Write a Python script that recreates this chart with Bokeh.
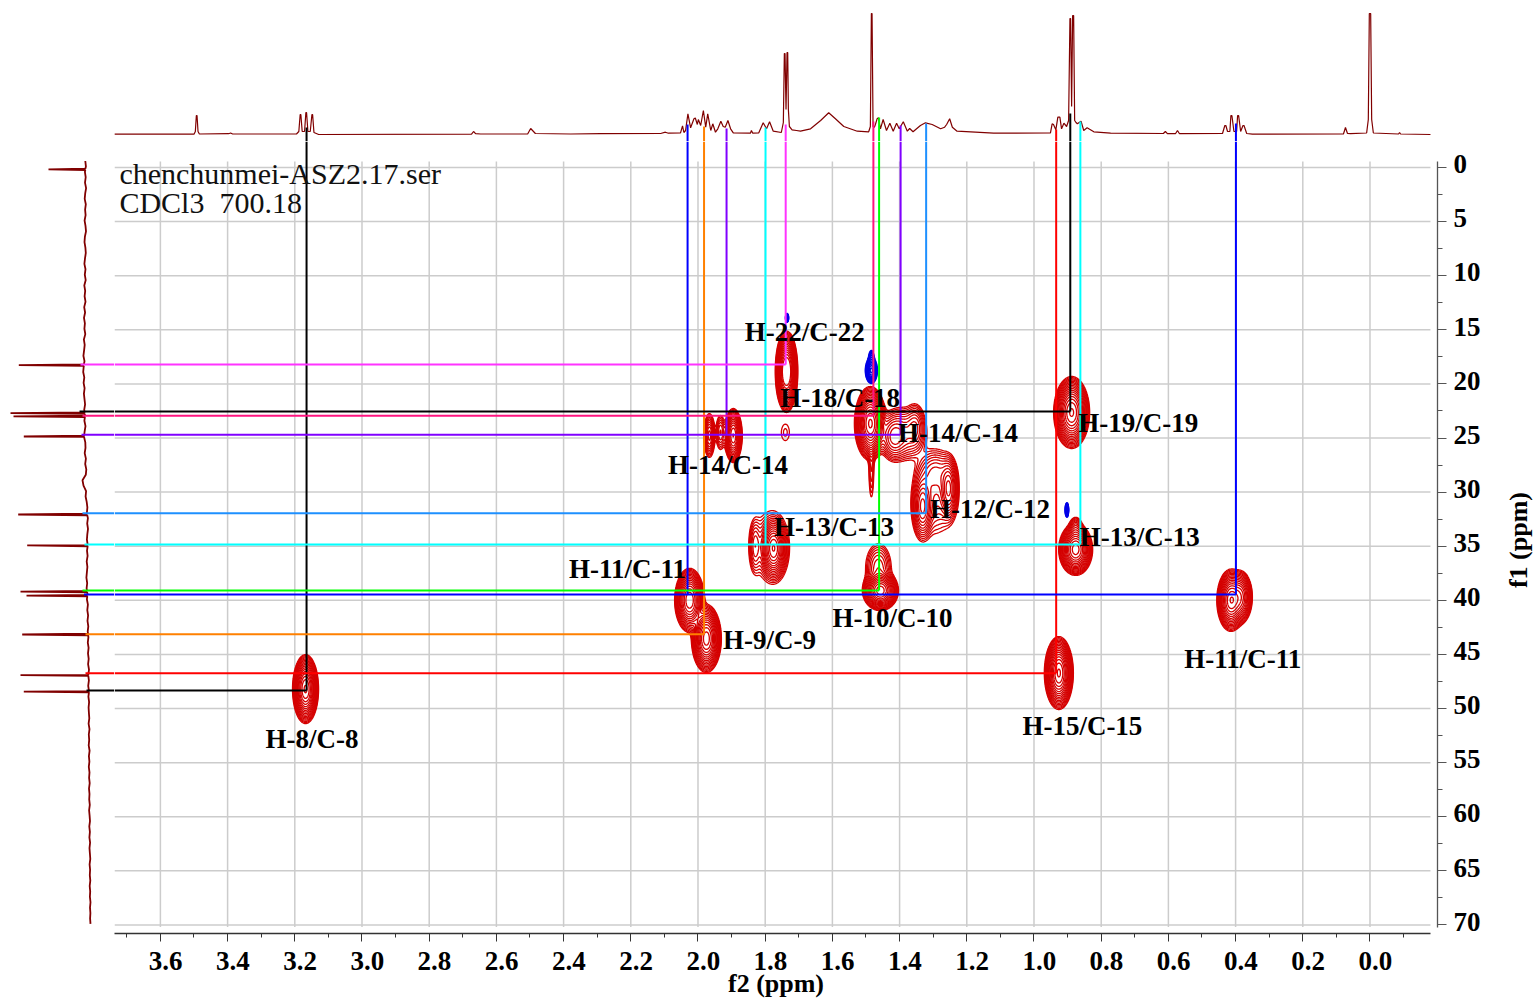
import math
import numpy as np
from bokeh.core.properties import value
from bokeh.embed import file_html
from bokeh.layouts import column, row
from bokeh.models import FixedTicker, LinearAxis, Range1d
from bokeh.plotting import figure
from bokeh.resources import INLINE

SERIF = "Liberation Serif"

# ---- axes
f2_ticks = [3.6, 3.4, 3.2, 3.0, 2.8, 2.6, 2.4, 2.2, 2.0, 1.8, 1.6, 1.4, 1.2, 1.0, 0.8, 0.6, 0.4, 0.2, 0.0]
f2_tick_labels = ["3.6", "3.4", "3.2", "3.0", "2.8", "2.6", "2.4", "2.2", "2.0", "1.8", "1.6", "1.4", "1.2", "1.0", "0.8", "0.6", "0.4", "0.2", "0.0"]
f2_minor = [3.7, 3.5, 3.3, 3.1, 2.9, 2.7, 2.5, 2.3, 2.1, 1.9, 1.7, 1.5, 1.3, 1.1, 0.9, 0.7, 0.5, 0.3, 0.1, -0.1]
f1_ticks = [0, 5, 10, 15, 20, 25, 30, 35, 40, 45, 50, 55, 60, 65, 70]
f1_tick_labels = ["0", "5", "10", "15", "20", "25", "30", "35", "40", "45", "50", "55", "60", "65", "70"]
f1_minor = [2.5, 7.5, 12.5, 17.5, 22.5, 27.5, 32.5, 37.5, 42.5, 47.5, 52.5, 57.5, 62.5, 67.5]

# ---- 1H projection (top): shift in ppm, intensity
h1_f2 = [3.737, 3.500, 3.496, 3.493, 3.491, 3.488, 3.484, 3.397, 3.391, 3.385, 3.195, 3.188, 3.184, 3.182, 3.178, 3.171, 3.167, 3.165, 3.161, 3.154, 3.149, 3.147, 3.143, 3.129,
         2.674, 2.668, 2.662, 2.647, 2.617, 2.507, 2.498, 2.484, 2.379, 2.290, 2.111, 2.097, 2.088,
         2.052, 2.046, 2.042, 2.037, 2.030, 2.022, 2.012, 2.008, 2.002, 1.999, 1.992, 1.984, 1.977, 1.971, 1.962, 1.956, 1.948, 1.941,
         1.932, 1.925, 1.919, 1.911, 1.903, 1.895, 1.844, 1.841, 1.837, 1.819, 1.806, 1.796, 1.787, 1.776, 1.752, 1.746, 1.743, 1.741, 1.738,
         1.735, 1.733, 1.731, 1.728, 1.720, 1.707, 1.695, 1.665, 1.635, 1.611, 1.591, 1.566, 1.526, 1.492, 1.487, 1.484, 1.482, 1.479, 1.475, 1.472, 1.467, 1.463,
         1.457, 1.449, 1.439, 1.429, 1.419, 1.409, 1.401, 1.389, 1.377, 1.370, 1.360, 1.338, 1.323, 1.303, 1.278, 1.266, 1.260, 1.251,
         1.243, 1.229, 1.120, 0.951, 0.946, 0.942, 0.935, 0.929, 0.923, 0.918, 0.911, 0.903, 0.897, 0.893, 0.891, 0.888, 0.885, 0.882, 0.879, 0.875, 0.871,
         0.860, 0.852, 0.842, 0.822, 0.772, 0.615, 0.609, 0.603, 0.579, 0.573, 0.567, 0.439, 0.432, 0.429, 0.424, 0.417, 0.414, 0.411, 0.405, 0.397, 0.394, 0.391, 0.385,
         0.378, 0.375, 0.367, 0.350, 0.079, 0.073, 0.067, 0.058, 0.010, 0.005, 0.002, 0.000, -0.002, -0.005, -0.010, -0.085, -0.088, -0.091, -0.180]
h1_int = [0.3, 0.3, 3, 19, 19, 3, 0.5, 0.8, 1.5, 0.5, 0.5, 3, 20, 20, 3, 3, 22, 22, 3, 3, 20, 20, 2, 0,
          0.3, 3, 0.8, 0.5, 0.5, 0.5, 6, 1, 0.5, 0.8, 1, 2.3, 1.3,
          1.7, 8.7, 2, 4, 20.7, 6.7, 15.7, 16.5, 10, 15, 9, 24, 7.3, 20.7, 4, 10.7, 2.3, 5.7,
          13.3, 8, 7.3, 14, 5.7, 1.7, 1.3, 4, 1.3, 1.7, 11.7, 5.7, 12.7, 3.3, 2, 12, 81, 81, 25,
          82, 82, 25, 8, 4.7, 4, 3.3, 5.7, 14, 21.7, 15.7, 8, 3.3, 2.7, 8, 121, 121, 8, 7.3, 10, 15.7, 16.7,
          5.7, 15, 4, 11.3, 3.3, 11.3, 5.7, 12.7, 3.3, 6, 2.7, 9, 11.7, 10, 5.7, 7.3, 10, 15.7,
          7.3, 3.3, 1.3, 1.7, 10.7, 10, 4.7, 17.3, 17.3, 5.7, 11.3, 8, 14, 116, 116, 28, 119, 119, 14, 12, 10.7,
          13.3, 4, 6.7, 2.7, 1.3, 1, 3, 0.8, 0.8, 4, 0.8, 1, 9, 9, 3, 3, 19, 19, 3, 3, 19, 19, 3,
          9, 9, 1, 0.3, 0.5, 7, 1, 0.8, 1.5, 15, 121, 121, 121, 15, 1.5, 0.5, 2, 0.5, 0]

# ---- 13C projection (left): baseline read every 0.5 ppm from -0.6, then the peaks
c13_base_int = [5.2, 4.6, 5.6, 4.8, 5.5, 4.4, 5.3, 5.8, 4.7, 5.4, 4.9, 5.9, 5.0, 4.5,
                5.6, 6.0, 5.1, 4.7, 5.5, 6.1, 5.0, 5.7, 4.8, 6.2, 5.3, 5.9, 5.0, 6.3, 5.4,
                6.5, 5.6, 6.1, 5.2, 6.6, 5.8, 6.4, 7.1, 6.0, 6.8, 7.3, 6.2, 6.9, 5.9, 6.6,
                6.0, 5.4, 6.3, 5.5, 6.1, 5.0, 5.9, 6.4, 5.2, 5.0, 5.8, 4.6, 5.3, 4.2, 4.7,
                8.0, 7.0, 4.4, 4.9, 3.8, 3.1, 3.6, 2.6, 3.3, 2.5, 3.2, 3.6, 2.8, 3.5,
                2.9, 3.8, 3.1, 3.6, 4.1, 3.3, 3.9, 3.0, 3.6, 2.6, 3.2, 2.4, 3.0, 2.2, 2.8,
                2.1, 2.7, 1.9, 2.5, 1.8, 2.4, 1.5, 2.2, 1.6, 2.3, 1.5, 2.1, 1.4, 1.9, 1.6,
                1.2, 1.9, 1.0, 1.7, 1.3, 1.8, 0.9, 1.6, 1.1, 1.7, 1.0, 1.4, 0.8, 1.5, 1.0,
                1.3, 0.7, 1.4, 0.9, 0.5, 1.2, 0.6, 1.1, 0.4, 1.0, 0.6, 0.2, 0.9, 0.4, 0.7,
                0.2, 0.8, 0.3, 0.6, 0.0, 0.5, 0.1, 0.4, 0.0]
c13_peak_f1 = [0.18, 18.27, 22.7, 23.0, 24.86, 32.07, 34.93, 39.2, 39.56, 43.16, 46.92, 48.43]
c13_peak_int = [42, 71.7, 80, 77, 66.7, 72.3, 63.3, 70, 64, 68.3, 70, 66.7]

# ---- cross peaks: f2, f1, half width / half height of the outermost contour (ppm), height
red_f2 = [3.168, 0.926, 0.414, 0.385, 0.888, 0.876, 0.876, 1.457, 1.463, 1.775, 1.830, 1.785, 2.025, 1.975, 1.487, 1.484,
          1.353, 1.418, 1.390, 1.332, 1.254, 1.293, 1.295, 1.895, 1.966, 1.933, 1.740, 1.742, 1.731]
red_f1 = [48.2, 46.72, 40.0, 39.7, 22.64, 35.3, 33.36, 39.1, 36.97, 35.2, 35.0, 35.0, 40.0, 43.53, 23.66, 27.5,
          24.0, 24.95, 24.6, 31.33, 29.7, 28.19, 30.3, 24.77, 24.77, 24.49, 24.49, 18.85, 18.85]
red_wx = [0.0387, 0.0432, 0.042, 0.035, 0.0536, 0.0506, 0.018, 0.0536, 0.038, 0.0417, 0.016, 0.050, 0.0446, 0.0446, 0.0476, 0.0074,
          0.0268, 0.036, 0.065, 0.031, 0.028, 0.0476, 0.060, 0.0268, 0.0164, 0.0134, 0.0119, 0.028, 0.028]
red_wy = [3.19, 3.37, 2.87, 2.4, 3.33, 2.4, 1.0, 1.85, 2.2, 2.96, 2.22, 3.0, 2.96, 3.14, 3.42, 2.96,
          2.0, 2.0, 2.4, 3.1, 2.9, 1.8, 3.5, 2.5, 2.03, 1.57, 0.74, 3.51, 3.51]
red_amp = [70, 70, 50, 25, 70, 60, 5, 60, 6, 50, 5, 3, 50, 60, 70, 3,
           6, 8, 8, 18, 18, 5, 4, 40, 12, 5, 1.4, 70, 70]
blue_f2 = [1.735, 1.484, 1.484, 0.902]
blue_f1 = [13.9, 18.76, 17.56, 31.65]
blue_wx = [0.0045, 0.0179, 0.0074, 0.0051]
blue_wy = [0.42, 1.2, 0.65, 0.69]
blue_amp = [8, 20, 3, 8]
contour_levels = [1.0, 1.3, 1.69, 2.2, 2.86, 3.71, 4.83, 6.27, 8.16, 10.6, 13.8, 17.9, 23.3, 30.3, 39.4, 51.2, 66.5]

# ---- correlation guides
v_f2 = [3.165, 2.031, 1.982, 1.915, 1.799, 1.739, 1.478, 1.461, 1.397, 1.321, 0.934, 0.892, 0.862, 0.399]
v_end_f1 = [48.34, 39.46, 43.13, 24.70, 34.84, 18.21, 22.95, 39.09, 24.70, 31.95, 46.74, 22.55, 34.84, 39.46]
v_start_int = [7, 10, 8, 6, 7, 10, 13, 17, 9, 11, 5, 21, 13, 11]
v_color = ["#000000", "#0000ff", "#ff8000", "#8000ff", "#00ffff", "#ff33ff", "#ff1480", "#00ff00", "#8000ff", "#1e90ff", "#ff0000", "#000000", "#00ffff", "#0000ff"]
h_f1 = [18.21, 22.55, 22.95, 24.70, 31.95, 34.84, 39.09, 39.46, 43.13, 46.74, 48.34]
h_end_f2 = [1.739, 0.892, 1.478, 1.397, 1.321, 0.862, 1.461, 0.399, 1.982, 0.934, 3.165]
h_start_int = [10, 11, 8, 9, 8, 6, 8, 6.5, 5, 5, 4]
h_color = ["#ff33ff", "#000000", "#ff1480", "#8000ff", "#1e90ff", "#00ffff", "#00ff00", "#0000ff", "#ff8000", "#ff0000", "#000000"]

# ---- assignments
label_text = ["H-22/C-22", "H-18/C-18", "H-14/C-14", "H-19/C-19", "H-14/C-14", "H-12/C-12", "H-13/C-13", "H-13/C-13",
              "H-11/C-11", "H-10/C-10", "H-9/C-9", "H-11/C-11", "H-15/C-15", "H-8/C-8"]
label_f2 = [1.682, 1.577, 1.226, 0.690, 1.911, 1.131, 1.595, 0.685, 2.210, 1.421, 1.787, 0.379, 0.856, 3.149]
label_f1 = [15.16, 21.26, 24.49, 23.57, 27.45, 31.52, 33.18, 34.11, 37.15, 41.59, 43.62, 45.38, 51.57, 52.77]
note_text = ["chenchunmei-ASZ2.17.ser", "CDCl3\u00a0\u00a0700.18"]
note_f2 = [3.722, 3.722]
note_f1 = [0.56, 3.25]

# ---- ranges shared by the panels
F2_L, F2_R = 3.7366, -0.2009
F1_B, F1_T = 70.79, -2.403
F2_EDGE = -0.18      # where grid and axis stop on the right
F1_EDGE = 70.2       # where grid and axis stop at the bottom
F1_START = -0.555    # where grid and axis start at the top
x_range = Range1d(F2_L, F2_R)
y_range = Range1d(F1_B, F1_T)

LEFT_W, FRAME_W, RIGHT_W, TITLE_W = 114, 1323, 53, 47
TOP_H, FRAME_H, BOTTOM_H = 141, 792, 67
TOP_FLOOR = -7

# ---- top panel
top = figure(width=LEFT_W + FRAME_W + RIGHT_W + TITLE_W, height=TOP_H, x_range=x_range, y_range=Range1d(TOP_FLOOR, 134),
             x_axis_location=None, y_axis_location=None, toolbar_location=None, output_backend="svg",
             min_border_left=LEFT_W, min_border_right=RIGHT_W + TITLE_W, min_border_top=0, min_border_bottom=0,
             outline_line_color=None)
top.grid.visible = False
top.line(h1_f2, h1_int, line_color="#800000", line_width=1.2)
top.segment(v_f2, v_start_int, v_f2, [TOP_FLOOR] * len(v_f2), line_color=v_color, line_width=2)

# ---- left panel
left = figure(width=LEFT_W, height=FRAME_H + BOTTOM_H, x_range=Range1d(90, -24), y_range=y_range,
              x_axis_location=None, y_axis_location=None, toolbar_location=None, output_backend="svg",
              min_border_left=0, min_border_right=0, min_border_top=0, min_border_bottom=BOTTOM_H,
              outline_line_color=None)
left.grid.visible = False
c13_base_f1 = [-0.6 + 0.5 * i for i in range(len(c13_base_int))]
c13_pts = list(zip(c13_base_f1, c13_base_int))
for f, h in zip(c13_peak_f1, c13_peak_int):
    b = float(np.interp(f, c13_base_f1, c13_base_int))
    c13_pts += [(f - 0.07, b), (f, h), (f + 0.07, b)]
c13_pts.sort()
left.line([b for _, b in c13_pts], [a for a, _ in c13_pts], line_color="#800000", line_width=1.8)
left.segment(h_start_int, h_f1, [-24] * len(h_f1), h_f1, line_color=h_color, line_width=2)

# ---- main panel
p = figure(width=FRAME_W + RIGHT_W, height=FRAME_H + BOTTOM_H, x_range=x_range, y_range=y_range,
           x_axis_location="below", y_axis_location="right", toolbar_location=None, output_backend="svg",
           min_border_left=0, min_border_right=RIGHT_W, min_border_top=0, min_border_bottom=BOTTOM_H,
           outline_line_color=None)
p.grid.visible = False

grid_color = "#cccccc"
p.segment(f2_ticks, [F1_START] * len(f2_ticks), f2_ticks, [F1_EDGE] * len(f2_ticks), line_color=grid_color, line_width=1.5)
p.segment([F2_L] * len(f1_ticks), f1_ticks, [F2_EDGE] * len(f1_ticks), f1_ticks, line_color=grid_color, line_width=1.5)


def field(gx, gy, f2, f1, wx, wy, amp):
    z = np.zeros((gy.size, gx.size))
    for a, b, c, d, e in zip(f2, f1, wx, wy, amp):
        s = 2 * math.log(e)
        z += e * np.exp(-((gx[None, :] - a) ** 2 / (c * c / s)) / 2 - ((gy[:, None] - b) ** 2 / (d * d / s)) / 2)
    return z


gx = np.arange(0.25, 3.35, 0.0025)
gy = np.arange(10.0, 56.0, 0.08)
p.contour(gx, gy, field(gx, gy, red_f2, red_f1, red_wx, red_wy, red_amp), contour_levels,
          fill_color=None, line_color="#d40000", line_width=1.3)
p.contour(gx, gy, field(gx, gy, blue_f2, blue_f1, blue_wx, blue_wy, blue_amp), contour_levels,
          fill_color=None, line_color="#0000e6", line_width=1.4)

p.segment(v_f2, [F1_T] * len(v_f2), v_f2, v_end_f1, line_color=v_color, line_width=2)
p.segment([F2_L] * len(h_f1), h_f1, h_end_f2, h_f1, line_color=h_color, line_width=2)

p.text(note_f2, note_f1, text=note_text, text_font=value(SERIF), text_font_size=value("30px"),
       text_color="#111111", text_align="left", text_baseline="middle")
p.text(label_f2, label_f1, text=label_text, text_font=value(SERIF), text_font_size=value("27px"),
       text_font_style="bold", text_color="#000000", text_align="center", text_baseline="middle")

# axes: tick marks on the panel's edge, tick labels on a slightly shifted scale as in the source
x_tick = FixedTicker(ticks=f2_ticks, minor_ticks=f2_minor)
y_tick = FixedTicker(ticks=f1_ticks, minor_ticks=f1_minor)

xa = p.xaxis[0]
xa.ticker = x_tick
xa.bounds = (F2_EDGE, F2_L)
xa.axis_line_color = "#333333"
xa.axis_line_width = 1.3
xa.major_tick_line_color = "#333333"
xa.minor_tick_line_color = "#333333"
xa.major_tick_in = 0
xa.major_tick_out = 8
xa.minor_tick_in = 0
xa.minor_tick_out = 4
xa.major_label_overrides = {t: "" for t in f2_ticks}
xa.major_label_text_font_size = "1px"
xa.major_label_standoff = 0

ya = p.yaxis[0]
ya.ticker = y_tick
ya.bounds = (F1_START, F1_EDGE)
ya.axis_line_color = "#555555"
ya.axis_line_width = 1.3
ya.major_tick_line_color = "#555555"
ya.minor_tick_line_color = "#555555"
ya.major_tick_in = 0
ya.major_tick_out = 9
ya.minor_tick_in = 0
ya.minor_tick_out = 5
ya.major_label_overrides = {t: "" for t in f1_ticks}
ya.major_label_text_font_size = "1px"
ya.major_label_standoff = 0

p.extra_x_ranges = {"xl": Range1d(F2_L + 5.3 / 336, F2_R + 5.3 / 336)}
p.extra_y_ranges = {"yl": Range1d(F1_B + 3.3 / 10.82, F1_T + 3.3 / 10.82)}
xl = LinearAxis(x_range_name="xl", ticker=x_tick, axis_line_color=None, major_tick_line_color=None,
                minor_tick_line_color=None, major_tick_in=0, major_tick_out=0, minor_tick_in=0, minor_tick_out=0,
                major_label_overrides=dict(zip(f2_ticks, f2_tick_labels)), major_label_standoff=10,
                major_label_text_font=SERIF, major_label_text_font_style="bold",
                major_label_text_font_size="27px", major_label_text_color="#000000",
                axis_label="f2 (ppm)", axis_label_standoff=-4, axis_label_text_font=SERIF,
                axis_label_text_font_style="bold", axis_label_text_font_size="26px",
                axis_label_text_color="#000000")
yl = LinearAxis(y_range_name="yl", ticker=y_tick, axis_line_color=None, major_tick_line_color=None,
                minor_tick_line_color=None, major_tick_in=0, major_tick_out=0, minor_tick_in=0, minor_tick_out=0,
                major_label_overrides=dict(zip(f1_ticks, f1_tick_labels)), major_label_standoff=7,
                major_label_text_font=SERIF, major_label_text_font_style="bold",
                major_label_text_font_size="27px", major_label_text_color="#000000")
p.add_layout(xl, "below")
p.add_layout(yl, "right")

# ---- narrow panel holding the rotated f1 title
side = figure(width=TITLE_W, height=FRAME_H + BOTTOM_H, x_range=Range1d(0, TITLE_W), y_range=y_range,
              x_axis_location=None, y_axis_location=None, toolbar_location=None, output_backend="svg",
              min_border_left=0, min_border_right=0, min_border_top=0, min_border_bottom=BOTTOM_H,
              outline_line_color=None)
side.grid.visible = False
side.text([28], [34.43], text=["f1 (ppm)"], angle=math.pi / 2, text_font=value(SERIF), text_font_size=value("26px"),
          text_font_style="bold", text_color="#000000", text_align="center", text_baseline="middle")

layout = column(top, row(left, p, side, spacing=0), spacing=0)
open("out.html", "w").write(file_html(layout, INLINE))
